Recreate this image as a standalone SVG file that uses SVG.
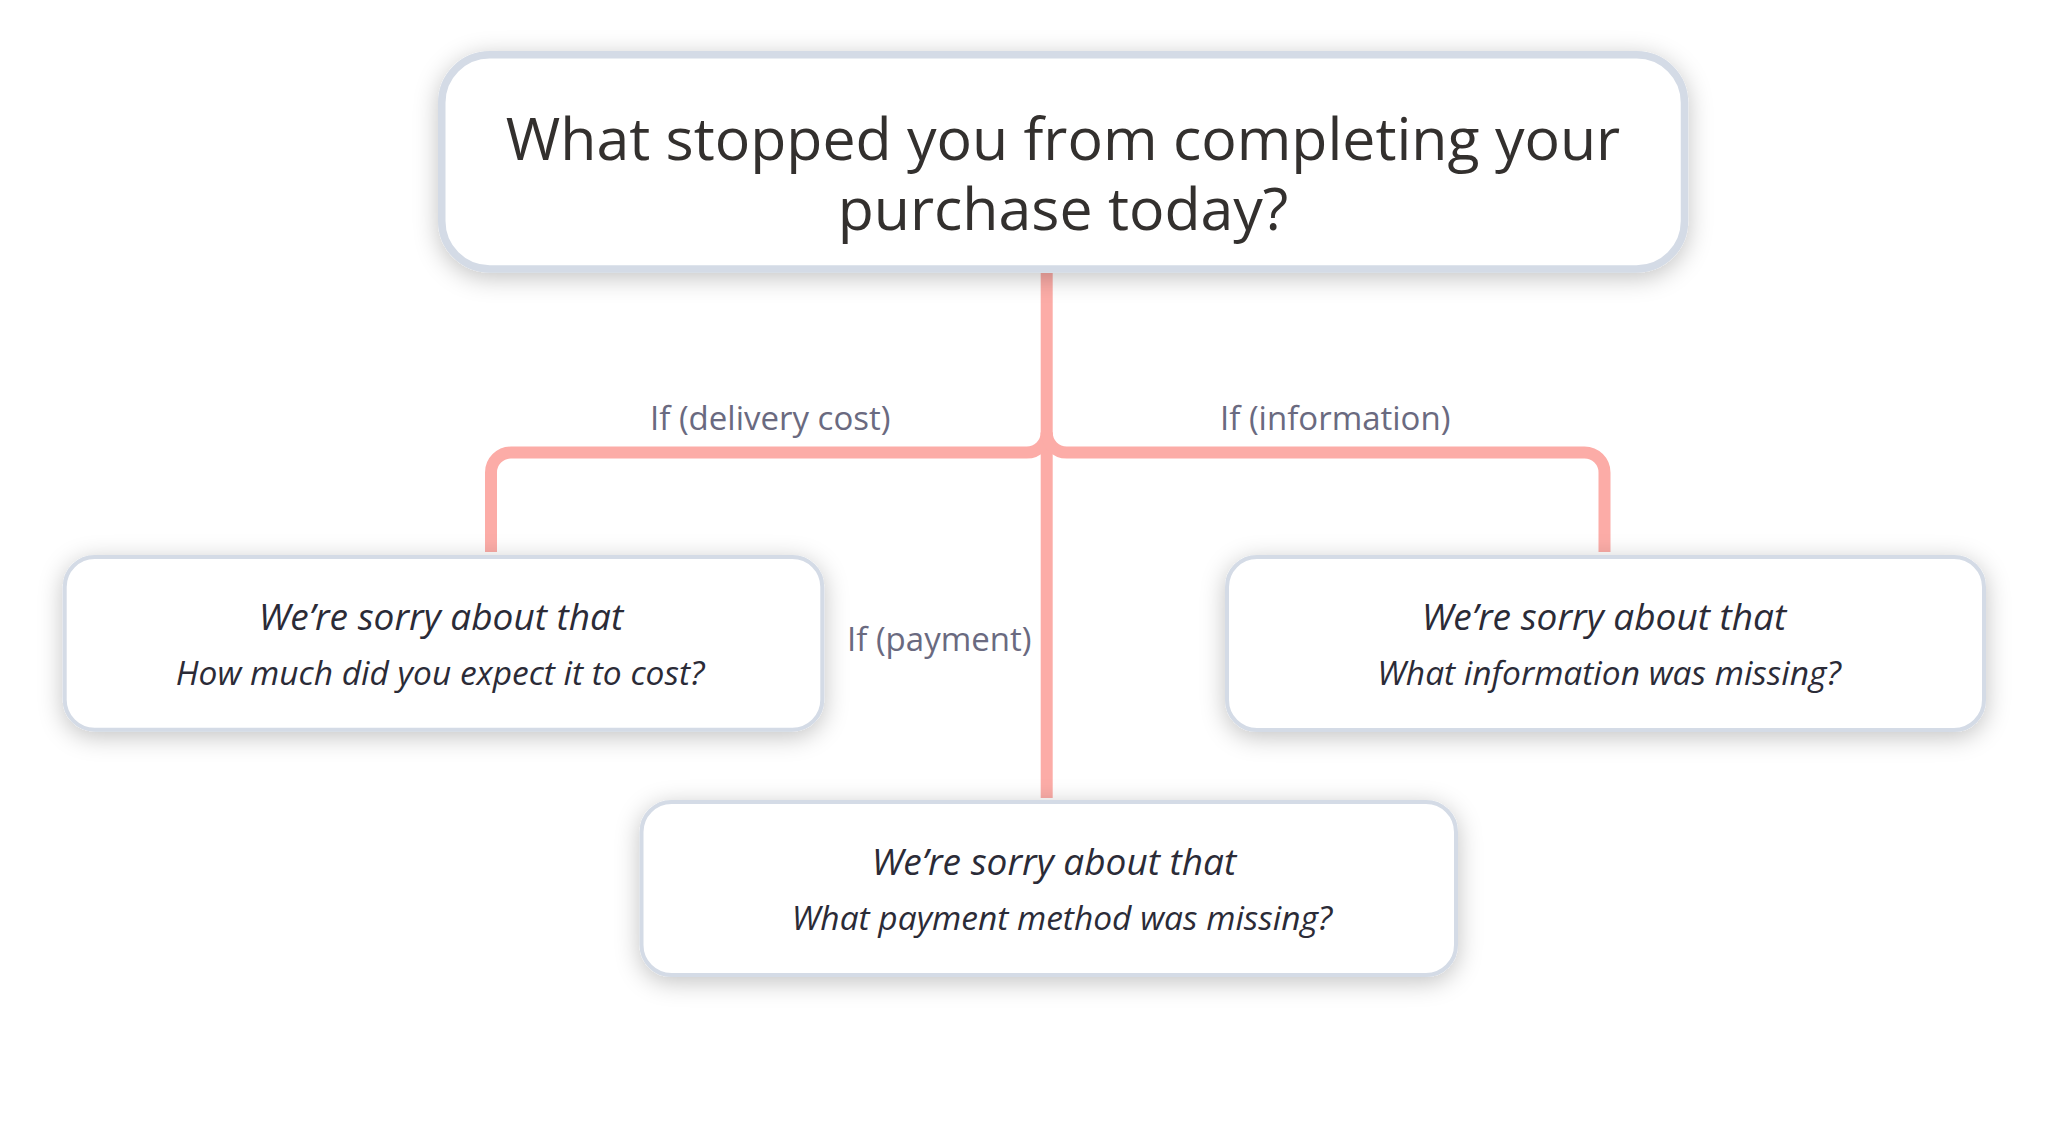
<svg xmlns="http://www.w3.org/2000/svg" width="2051" height="1131" viewBox="0 0 2051 1131">
  <defs>
    <filter id="shadow" x="-10%" y="-40%" width="120%" height="190%">
      <feDropShadow dx="0" dy="5" stdDeviation="12" flood-color="#000000" flood-opacity="0.24"/>
    </filter>
    <style>
      .conn { fill: none; stroke: #fcaca7; stroke-width: 12; }
      .node { fill: #ffffff; stroke: #d4dbe6; stroke-width: 4; filter: url(#shadow); }
      .root { fill: #ffffff; stroke: #d4dbe6; stroke-width: 7.5; filter: url(#shadow); }
      .title { font-family: "Open Sans", "Noto Sans", sans-serif; font-size: 59px; fill: #33302e; text-anchor: middle; }
      .h1 { font-family: "Open Sans", "Noto Sans", sans-serif; font-style: italic; font-size: 37px; fill: #2b2b37; text-anchor: middle; }
      .h2 { font-family: "Open Sans", "Noto Sans", sans-serif; font-style: italic; font-size: 33.5px; fill: #2b2b37; text-anchor: middle; }
      .lbl { font-family: "Open Sans", "Noto Sans", sans-serif; font-size: 33px; fill: #6a6a80; }
    </style>
  </defs>
  <rect x="0" y="0" width="2051" height="1131" fill="#ffffff"/>

  <g id="connectors">
    <path class="conn" d="M1046.7 273 V798"/>
    <path class="conn" d="M1046.7 432.5 A20 20 0 0 1 1026.7 452.5 H511 A20 20 0 0 0 491 472.5 V552"/>
    <path class="conn" d="M1046.7 432.5 A20 20 0 0 0 1066.7 452.5 H1584.5 A20 20 0 0 1 1604.5 472.5 V552"/>
    <text class="lbl" x="650" y="430">If (delivery cost)</text>
    <text class="lbl" x="1220" y="430">If (information)</text>
    <text class="lbl" x="847" y="651">If (payment)</text>
  </g>

  <g id="node-root">
    <rect class="root" x="441.75" y="54.75" width="1242.75" height="214.25" rx="48" ry="48"/>
    <text class="title" x="1063" y="160">What stopped you from completing your</text>
    <text class="title" x="1063" y="230">purchase today?</text>
  </g>

  <g id="node-cost">
    <rect class="node" x="64.7" y="557" width="757.6" height="172.7" rx="30" ry="30"/>
    <text class="h1" x="441" y="630">We’re sorry about that</text>
    <text class="h2" x="440" y="685">How much did you expect it to cost?</text>
  </g>

  <g id="node-info">
    <rect class="node" x="1227" y="557" width="757" height="173" rx="30" ry="30"/>
    <text class="h1" x="1604" y="630">We’re sorry about that</text>
    <text class="h2" x="1609" y="685">What information was missing?</text>
  </g>

  <g id="node-payment">
    <rect class="node" x="641.5" y="802" width="814.5" height="173" rx="30" ry="30"/>
    <text class="h1" x="1054" y="875">We’re sorry about that</text>
    <text class="h2" x="1062" y="930">What payment method was missing?</text>
  </g>
</svg>
